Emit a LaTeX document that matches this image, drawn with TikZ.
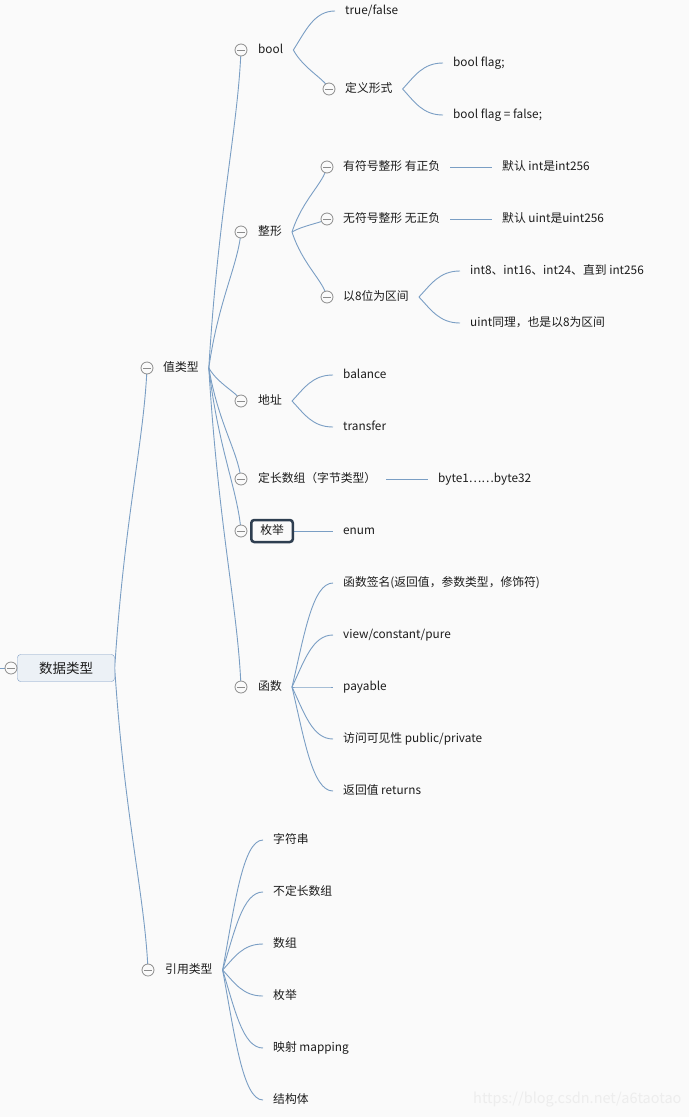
\documentclass[tikz,border=0pt]{standalone}
\usepackage{fontspec}
\setmainfont{Noto Sans CJK SC}
\usetikzlibrary{calc,backgrounds}
\definecolor{twigblue}{RGB}{122,158,196}
\definecolor{knobgray}{RGB}{140,140,140}
\definecolor{inkdark}{RGB}{28,28,28}
\definecolor{paper}{RGB}{250,250,250}
\definecolor{rootfill}{RGB}{236,241,246}
\definecolor{rootline}{RGB}{124,156,196}
\definecolor{focusline}{RGB}{46,62,80}
\tikzset{
  topic/.style={anchor=west, inner xsep=10pt, inner ysep=2pt, text=inkdark,
                text height=0.82em, text depth=0.18em,
                font=\fontsize{11.8}{14}\selectfont},
  rootbox/.style={draw=rootline, fill=rootfill, rounded corners=3pt,
                  minimum width=97pt, minimum height=27pt, text=inkdark,
                  font=\fontsize{13.5}{16}\selectfont},
  focusbox/.style={topic, draw=focusline, line width=2.5pt, fill=paper,
                   rounded corners=3pt, inner xsep=9pt, minimum height=22pt},
  knob/.style={circle, draw=knobgray, fill=paper, line width=0.8pt,
               minimum size=12pt, inner sep=0pt,
               path picture={\draw[knobgray, line width=0.8pt]
                 ([xshift=-4pt]path picture bounding box.center) --
                 ([xshift=4pt]path picture bounding box.center);}},
  twigline/.style={draw=twigblue, line width=0.9pt},
  stamp/.style={anchor=east, text=black!7, font=\fontsize{14.5}{16}\selectfont},
}
% curve ending on a text
\newcommand{\twig}[2]{\draw[twigline] let \p1=(#1), \p2=(#2) in (\p1)
  .. controls ({\x1+0.3*(\x2-\x1)},{\y1+0.5*(\y2-\y1)}) and ({\x1+0.5*(\x2-\x1)},\y2) .. (\p2);}
% curve ending on a knob
\newcommand{\limb}[2]{\draw[twigline] let \p1=(#1), \p2=(#2) in (\p1)
  .. controls ({\x1+0.3*(\x2-\x1)},{\y1+0.5*(\y2-\y1)}) and ({\x2-0.1*(\x2-\x1)},{\y2-0.25*(\y2-\y1)}) .. (\p2);}
\newcommand{\stem}[2]{\draw[twigline] (#1) -- (#2);}
\newcommand{\KnobB}{241}
\newcommand{\TxtB}{248}
\newcommand{\KnobC}{327}
\newcommand{\TxtC}{333}

\begin{document}
\begin{tikzpicture}[x=1pt,y=-1pt]
  \useasboundingbox (0,0) rectangle (689,1117);

  % root
  \node[rootbox] (root) at (66,668) {数据类型};
  \node[knob] (k-root) at (11,668) {};
  \coordinate (stub) at (0,668);

  % first level
  \node[knob] (k-val) at (147,368) {};
  \node[topic] (val) at (153,368) {值类型};
  \node[knob] (k-ref) at (148,970) {};
  \node[topic] (ref) at (155,970) {引用类型};

  % bool
  \node[knob] (k-bool) at (\KnobB,50) {};
  \node[topic] (bool) at (\TxtB,50) {bool};
  \node[topic] (bool-tf) at (335,11) {true/false};
  \node[knob] (k-form) at (329,89) {};
  \node[topic] (form) at (335,89) {定义形式};
  \node[topic] (form-a) at (443,63) {bool flag;};
  \node[topic] (form-b) at (443,115) {bool flag = false;};

  % integers
  \node[knob] (k-int) at (\KnobB,232) {};
  \node[topic] (int) at (\TxtB,232) {整形};
  \node[knob] (k-sint) at (\KnobC,167) {};
  \node[topic] (sint) at (\TxtC,167) {有符号整形 有正负};
  \node[topic] (sint-d) at (492,167) {默认 int是int256};
  \node[knob] (k-uint) at (\KnobC,219) {};
  \node[topic] (uint) at (\TxtC,219) {无符号整形 无正负};
  \node[topic] (uint-d) at (492,219) {默认 uint是uint256};
  \node[knob] (k-span) at (\KnobC,297) {};
  \node[topic] (span8) at (\TxtC,297) {以8位为区间};
  \node[topic] (span-a) at (460,271) {int8、int16、int24、直到 int256};
  \node[topic] (span-b) at (460,323) {uint同理，也是以8为区间};

  % address
  \node[knob] (k-addr) at (\KnobB,401) {};
  \node[topic] (addr) at (\TxtB,401) {地址};
  \node[topic] (addr-a) at (\TxtC,375) {balance};
  \node[topic] (addr-b) at (\TxtC,427) {transfer};

  % fixed arrays, enum
  \node[knob] (k-fix) at (\KnobB,479) {};
  \node[topic] (fix) at (\TxtB,479) {定长数组（字节类型）};
  \node[topic] (fix-d) at (428,479) {byte1……byte32};
  \node[knob] (k-enum) at (\KnobB,531) {};
  \node[focusbox] (enum) at (250,531) {枚举};
  \node[topic] (enum-d) at (\TxtC,531) {enum};

  % functions
  \node[knob] (k-fn) at (\KnobB,687) {};
  \node[topic] (fn) at (\TxtB,687) {函数};
  \node[topic] (fn-a) at (\TxtC,583) {函数签名(返回值，参数类型，修饰符)};
  \node[topic] (fn-b) at (\TxtC,635) {view/constant/pure};
  \node[topic] (fn-c) at (\TxtC,687) {payable};
  \node[topic] (fn-d) at (\TxtC,739) {访问可见性 public/private};
  \node[topic] (fn-e) at (\TxtC,791) {返回值 returns};

  % reference types
  \node[topic] (ref-a) at (263,840) {字符串};
  \node[topic] (ref-b) at (263,892) {不定长数组};
  \node[topic] (ref-c) at (263,944) {数组};
  \node[topic] (ref-d) at (263,996) {枚举};
  \node[topic] (ref-e) at (263,1048) {映射 mapping};
  \node[topic] (ref-f) at (263,1100) {结构体};

  \node[stamp] (mark) at (685,1100) {https://blog.csdn.net/a6taotao};

  \begin{scope}[on background layer]
    \fill[paper] (0,0) rectangle (689,1117);
    \stem{stub}{k-root.center}
    \limb{root.east}{k-val.center}
    \limb{root.east}{k-ref.center}
    \foreach \k in {bool,int,addr,fix,enum,fn}
      {\limb{val.east}{k-\k.center}}
    \twig{bool.east}{bool-tf.west}
    \limb{bool.east}{k-form.center}
    \twig{form.east}{form-a.west}
    \twig{form.east}{form-b.west}
    \foreach \k in {sint,uint,span}
      {\limb{int.east}{k-\k.center}}
    \stem{sint.east}{sint-d.west}
    \stem{uint.east}{uint-d.west}
    \twig{span8.east}{span-a.west}
    \twig{span8.east}{span-b.west}
    \twig{addr.east}{addr-a.west}
    \twig{addr.east}{addr-b.west}
    \stem{fix.east}{fix-d.west}
    \stem{enum.east}{enum-d.west}
    \foreach \k in {a,b,c,d,e}
      {\twig{fn.east}{fn-\k.west}}
    \foreach \k in {a,b,c,d,e,f}
      {\twig{ref.east}{ref-\k.west}}
  \end{scope}
\end{tikzpicture}
\end{document}
